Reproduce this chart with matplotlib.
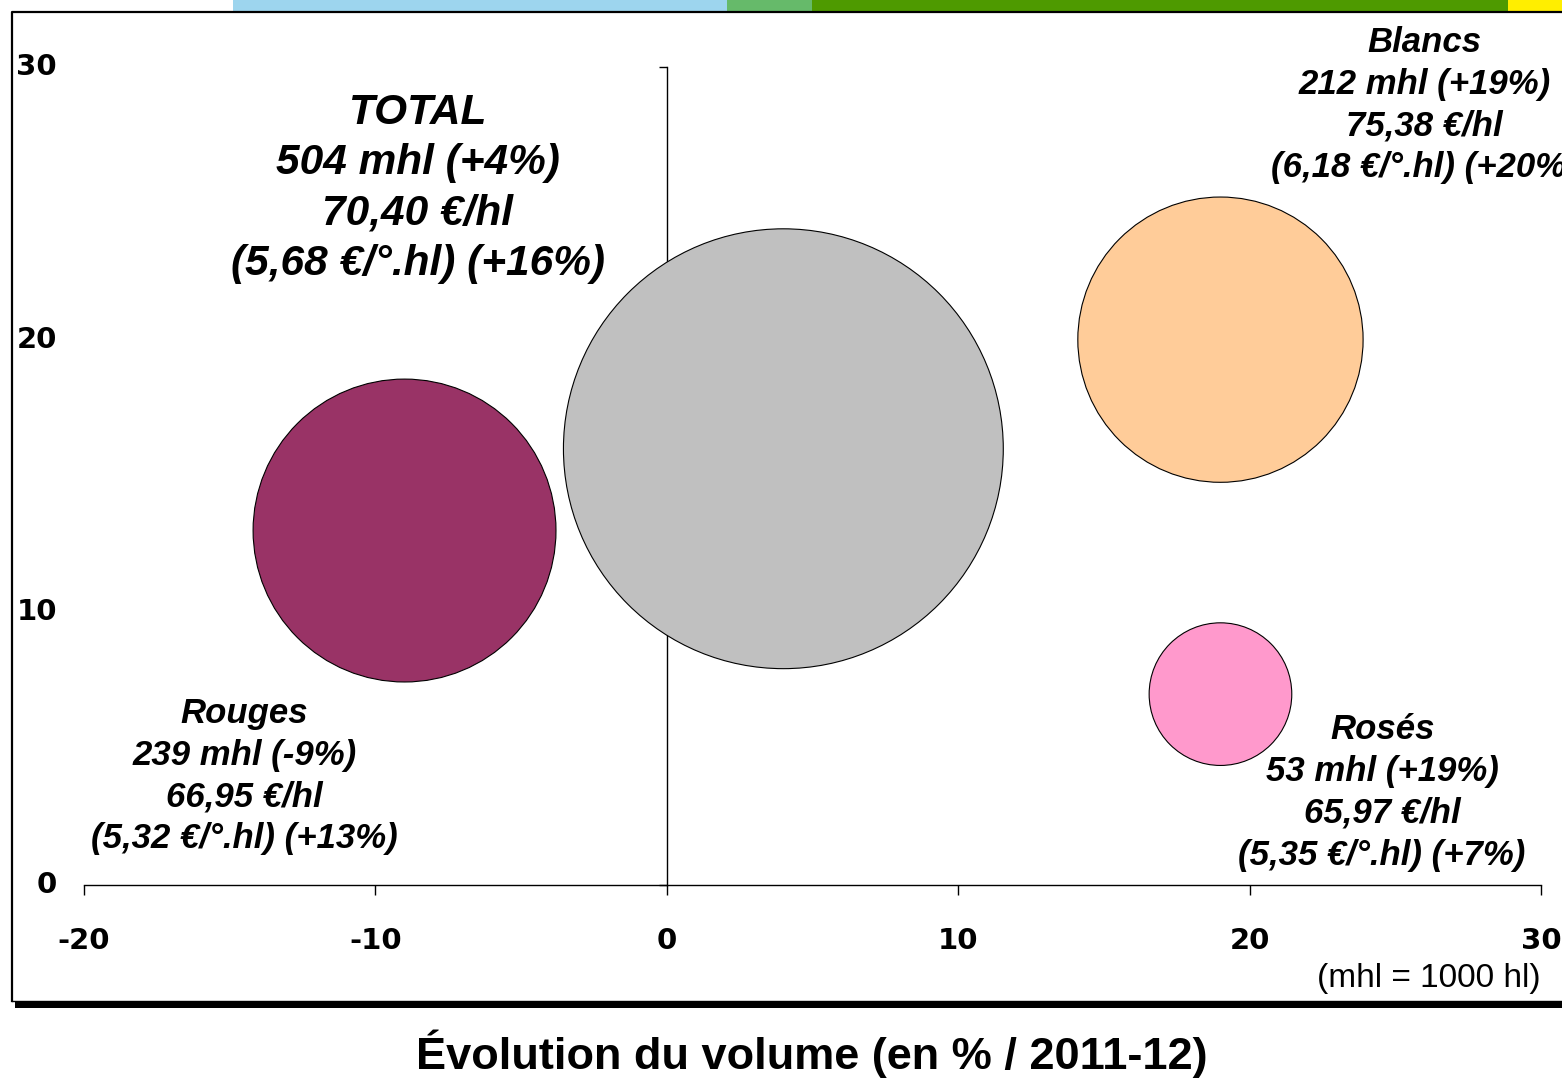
import matplotlib
matplotlib.use("Agg")
import matplotlib.pyplot as plt
from matplotlib.patches import Rectangle
from matplotlib.lines import Line2D
from matplotlib.transforms import blended_transform_factory

# donnees du graphique a bulles
SEGMENTS = ["Rouges", "TOTAL", "Blancs", "Rosés"]
EVOL_VOLUME = [-9, 4, 19, 19]          # % / 2011-12
EVOL_PRIX = [13, 16, 20, 7]            # axe vertical
VOLUMES_MHL = [239, 504, 212, 53]
COULEURS = ["#993366", "#C0C0C0", "#FFCC99", "#FF99CC"]
ETIQUETTES = [
    "Rouges\n239 mhl (-9%)\n66,95 €/hl\n(5,32 €/°.hl) (+13%)",
    "TOTAL\n504 mhl (+4%)\n70,40 €/hl\n(5,68 €/°.hl) (+16%)",
    "Blancs\n212 mhl (+19%)\n75,38 €/hl\n(6,18 €/°.hl) (+20%)",
    "Rosés\n53 mhl (+19%)\n65,97 €/hl\n(5,35 €/°.hl) (+7%)",
]
XTICKS = [-20, -10, 0, 10, 20, 30]
YTICKS = [0, 10, 20, 30]

plt.rcParams["font.family"] = ["Liberation Sans", "DejaVu Sans"]

W, H = 1562, 1078
fig = plt.figure(figsize=(W / 100, H / 100), dpi=100)

# bandeau de couleurs en haut + cadre
for x0, x1, c in [(233, 727, "#9DD5EE"), (727, 812, "#66BA6A"),
                  (812, 1508, "#4E9A00"), (1508, 1562, "#FFEE00")]:
    fig.patches.append(Rectangle((x0 / W, 1 - 11 / H), (x1 - x0) / W, 11 / H,
                                 transform=fig.transFigure, color=c, lw=0))
fig.lines.append(Line2D([12 / W, 12 / W, 1.0], [1 - 1001 / H, 1 - 12 / H, 1 - 12 / H],
                        transform=fig.transFigure, color="black", lw=1.6))
fig.lines.append(Line2D([12 / W, 1.0], [1 - 1001 / H, 1 - 1001 / H],
                        transform=fig.transFigure, color="black", lw=1.0))
fig.patches.append(Rectangle((15 / W, 1 - 1008 / H), 1, 6 / H,
                             transform=fig.transFigure, color="black", lw=0))

ax = fig.add_axes([84 / W, 1 - 885 / H, (1541 - 84) / W, (885 - 67) / H])
ax.set_xlim(-20, 30)
ax.set_ylim(0, 30)
ax.patch.set_alpha(0)

ax.spines["top"].set_visible(False)
ax.spines["right"].set_visible(False)
ax.spines["left"].set_position(("data", 0))
for s in ["left", "bottom"]:
    ax.spines[s].set_linewidth(1.0)
    ax.spines[s].set_zorder(1)

# chiffres des axes : police large et grasse
police_axes = dict(family="DejaVu Sans", size=21, weight="bold")

ax.set_xticks(XTICKS)
ax.set_xticklabels([str(v) for v in XTICKS], fontdict=police_axes)
ax.tick_params(axis="x", direction="out", length=7, width=1, pad=23)
ax.set_yticks(YTICKS)
ax.tick_params(axis="y", direction="out", length=6, width=1, labelleft=False)

# y labels a gauche de la figure
tr = blended_transform_factory(fig.transFigure, ax.transData)
for v in YTICKS:
    ax.text(57 / W, v, str(v), transform=tr, ha="right", va="center", **police_axes)

# bulles (aire proportionnelle au volume)
echelle = 199.0
ax.scatter(EVOL_VOLUME, EVOL_PRIX, s=[v * echelle for v in VOLUMES_MHL],
           c=COULEURS, edgecolors="black", linewidths=0.8, zorder=3, clip_on=False)

# etiquettes
pos_txt = [(-14.5, 4.0), (-8.55, 25.55), (26.0, 28.6), (24.55, 3.4)]
tailles = [25, 30.5, 25, 25]
for (x, y), txt, fs in zip(pos_txt, ETIQUETTES, tailles):
    ax.text(x, y, txt, ha="center", va="center", fontsize=fs,
            fontweight="bold", style="italic", linespacing=1.34,
            clip_on=False, zorder=4)

fig.text(1541 / W, 1 - 978 / H, "(mhl = 1000 hl)", ha="right", va="center", fontsize=24)
fig.text(812 / W, 1 - 1054 / H, "Évolution du volume (en % / 2011-12)",
         ha="center", va="center", fontsize=32.5, fontweight="bold")

fig.savefig("out.png", dpi=100)
